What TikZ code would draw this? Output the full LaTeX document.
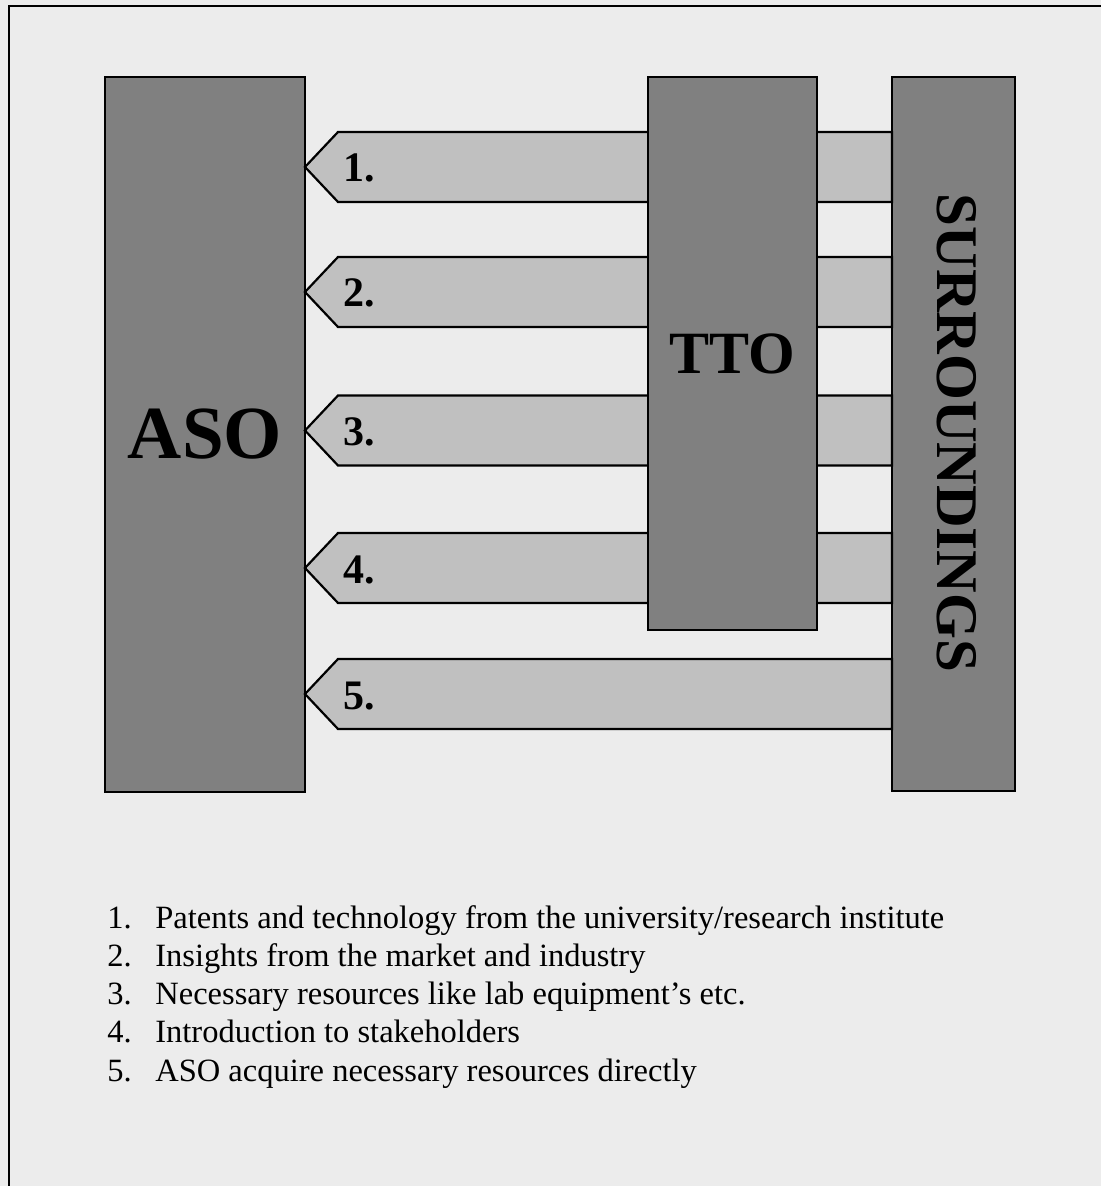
\documentclass[tikz,border=0pt]{standalone}
\usepackage{fontspec}
\setmainfont{Liberation Serif}
\usepackage{tikz}
\usetikzlibrary{arrows.meta, positioning, calc}
\definecolor{blockgray}  {RGB}{128, 128, 128}
\definecolor{flowgray}   {RGB}{192, 192, 192}
\definecolor{panelgray}  {RGB}{236, 236, 236}

\begin{document}
\begin{tikzpicture}[x=0.5pt,y=-0.5pt,
		block/.style={draw,line width=1.1pt,fill=blockgray,inner sep=0pt,outer sep=0pt,font=\bfseries},
		flow/.style={draw,line width=1.1pt,fill=flowgray,line join=miter},
		flowlbl/.style={anchor=base west,inner sep=0pt,font=\fontsize{21}{21}\selectfont\bfseries},
		item/.style={anchor=base west,inner sep=0pt,font=\fontsize{16.25}{19}\selectfont}]
	\useasboundingbox (0,0) rectangle (1101,1186);
	\fill[panelgray] (0,0) rectangle (1101,1186);
	\draw[line width=1.1pt] (9,1186)--(9,6)--(1101,6);
	% the three blocks
	\node[block,minimum width=100pt,minimum height=357.5pt] (aso) at (205,434.5) {\fontsize{37.5}{37.5}\selectfont ASO};
	\node[block,minimum width=61.5pt,minimum height=357pt] (surr) at (953.5,434) {};
	% flows from the surroundings to the ASO
	\foreach \n/\yc in {1/167,2/292,3/430.5,4/568,5/694}{
		\draw[flow] (aso.east |- 0,\yc) -- ++(33,-35) -- (surr.west |- 0,\yc-35)
			-- (surr.west |- 0,\yc+35) -- ($(aso.east |- 0,\yc)+(33,35)$) -- cycle;
		\node[flowlbl] (lbl\n) at (343,\yc+15) {\n.};
	}
	\node[block,minimum width=84.5pt,minimum height=276.5pt] (tto) at (732.5,353.5) {\fontsize{30}{30}\selectfont TTO};
	\node[rotate=-90,inner sep=0pt,font=\fontsize{29.5}{29.5}\selectfont\bfseries] (surrtext) at (957,433) {SURROUNDINGS};
	% legend
	\foreach \i/\txt in {1/{Patents and technology from the university/research institute},
			2/{Insights from the market and industry},
			3/{Necessary resources like lab equipment’s etc.},
			4/{Introduction to stakeholders},
			5/{ASO acquire necessary resources directly}}{
		\node[item] (item\i) at (107,928+38.3*\i-38.3) {\makebox[24pt][l]{\i.}\txt};
	}
\end{tikzpicture}
\end{document}
